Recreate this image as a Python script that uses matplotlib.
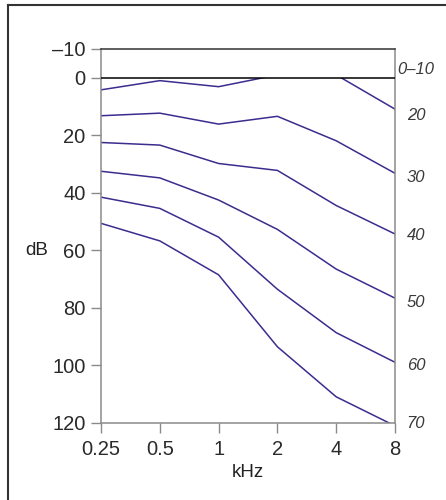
import matplotlib
matplotlib.use('Agg')
import matplotlib.pyplot as plt
from matplotlib.lines import Line2D
from matplotlib.patches import Rectangle
import numpy as np

plt.rcParams['font.family'] = ['Liberation Sans', 'DejaVu Sans']

freqs = ['0.25', '0.5', '1', '2', '4', '8']

# loudness contours (dB), top to bottom
curve_1 = [4.2, 1.0, 3.1, -1.0, -1.0, 10.9]
curve_2 = [13.2, 12.3, 16.1, 13.4, 21.9, 33.2]
curve_3 = [22.5, 23.4, 29.8, 32.2, 44.4, 54.3]
curve_4 = [32.5, 34.8, 42.5, 52.7, 66.5, 76.6]
curve_5 = [41.5, 45.4, 55.4, 73.5, 88.6, 98.9]
curve_6 = [50.6, 56.7, 68.5, 93.5, 110.9, 121.0]
curves = [curve_1, curve_2, curve_3, curve_4, curve_5, curve_6]

right_labels = ['0–10', '20', '30', '40', '50', '60', '70']
right_label_y = [-3, 13, 34.5, 55, 78, 100, 120]

y_ticks = [-10, 0, 20, 40, 60, 80, 100, 120]
y_ticklabels = ['–10', '0', '20', '40', '60', '80', '100', '120']

line_color = '#3d2b8e'
grey = '#8a8a8a'

fig = plt.figure(figsize=(4.46, 5.0), dpi=100)
ax = fig.add_axes([101 / 446, 1 - 423 / 500, 294 / 446, 374 / 500])

x = np.arange(len(freqs))
clip = Rectangle((0, 0), len(freqs) - 1, 120, transform=ax.transData)
for c in curves:
    ln, = ax.plot(x, c, color=line_color, lw=1.1)
    ln.set_clip_path(clip)

ax.axhline(0, color='black', lw=1.1, zorder=3)

ax.set_xlim(0, len(freqs) - 1)
ax.set_ylim(120, -10)
ax.set_xticks(x)
ax.set_xticklabels(freqs)
ax.set_yticks(y_ticks)
ax.set_yticklabels(y_ticklabels)
ax.tick_params(axis='both', labelsize=14.5, colors=grey, labelcolor='#2a2a2a',
               length=7, width=1.0, direction='out')
ax.tick_params(axis='x', pad=5)
ax.tick_params(axis='y', pad=4)

for side in ['left', 'right', 'bottom']:
    ax.spines[side].set_color(grey)
    ax.spines[side].set_linewidth(1.1)
ax.spines['top'].set_color('#333333')
ax.spines['top'].set_linewidth(1.1)

ax.set_xlabel('kHz', fontsize=13.5, color='#222222', labelpad=4)
ax.set_ylabel('dB', fontsize=13.5, color='#222222', rotation=0, va='center', ha='center')
ax.yaxis.set_label_coords(-0.219, (120 - 60) / 130)

trans = ax.get_yaxis_transform()
for lab, yv in zip(right_labels, right_label_y):
    ax.text(1.071, yv, lab, transform=trans, ha='center', va='center',
            fontsize=12, style='italic', color='#3a3a3a', clip_on=False)

# outer frame (top and left edges visible)
fig.add_artist(Line2D([8 / 446, 1], [1 - 5 / 500, 1 - 5 / 500], color='#333333', lw=1.5))
fig.add_artist(Line2D([8 / 446, 8 / 446], [0, 1 - 5 / 500], color='#333333', lw=1.5))

fig.savefig('out.png', dpi=100)
